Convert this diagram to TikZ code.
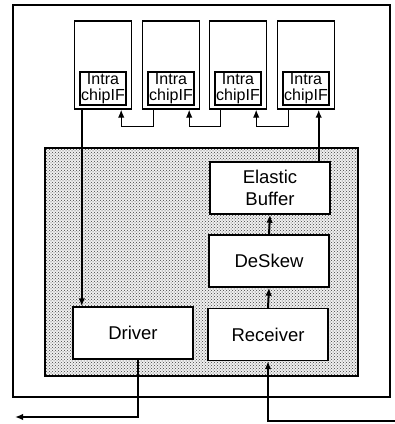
\documentclass[tikz,border=0pt]{standalone}
\usepackage{fontspec}
\setmainfont{Liberation Sans}
\usetikzlibrary{arrows.meta,calc,patterns}
\tikzset{>={Latex[length=8pt,width=6.5pt]},line width=1.2pt,
  chip/.style={draw,line width=1.4pt,minimum width=57pt,minimum height=88pt,inner sep=0pt},
  ifbox/.style={draw,line width=1.4pt,fill=white,minimum width=46pt,minimum height=33pt,
    inner sep=0pt,align=center,font=\fontsize{16}{16.5}\selectfont},
  block/.style={draw,line width=1.4pt,fill=white,minimum width=120pt,minimum height=52pt,
    inner sep=0pt,align=center,font=\fontsize{18.5}{21.5}\selectfont},
  link/.style={->,line width=1.2pt},
  bus/.style={->,line width=2pt}}
\begin{document}
\begin{tikzpicture}[x=1pt,y=-1pt]
\useasboundingbox (0,0) rectangle (395,424);
\draw[line width=1.3pt] (13,5) rectangle (390,397);
\fill[black!6] (45,148) rectangle (358,376);
\draw[line width=1.3pt,pattern=crosshatch dots,pattern color=black!75] (45,148) rectangle (358,376);
% chips
\foreach \n/\x in {1/103,2/171,3/238,4/306}{
  \node[chip] (chip\n) at (\x,65) {};
  \node[ifbox] (if\n) at (\x,88.5) {Intra\\chipIF};
}
\foreach \a/\b in {2/1,3/2,4/3}
  \draw[link] ($(chip\a.south west)+(12,0)$) -- ++(0,17) -| ($(chip\b.south east)+(-11,0)$);
% link blocks
\node[block] (buf) at (270,188) {Elastic\\Buffer};
\node[block] (dsk) at (269,261) {DeSkew};
\node[block] (drv) at (133,333) {Driver};
\node[block] (rcv) at (268,334.5) {Receiver};
\draw[bus] ($(chip1.south west)+(8,0)$) coordinate (ct) -- (ct |- drv.north);
\draw[bus] ($(buf.north east)+(-12,0)$) coordinate (bt) -- (bt |- chip4.south);
\draw[bus] (dsk.north) -- (buf.south);
\draw[bus] (rcv.north) -- (dsk.south);
\coordinate (out) at (15,417);
\coordinate (in) at (395,421);
\draw[bus] ($(drv.south)+(5,0)$) |- (out);
\draw[bus] (in) -| (rcv.south);
\end{tikzpicture}
\end{document}
